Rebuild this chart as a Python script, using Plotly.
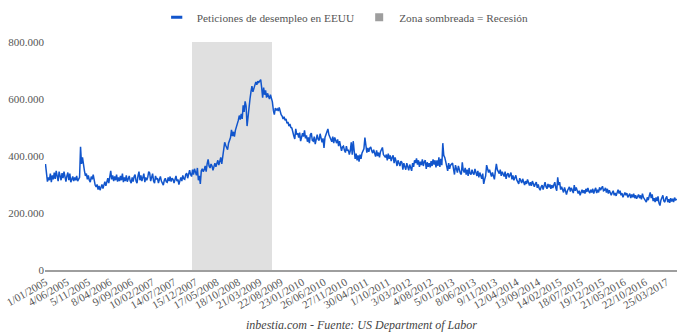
import pandas as pd
import plotly.graph_objects as go

# Weekly initial jobless claims (thousands)
y2005 = [372, 330, 310, 325, 315, 338, 308, 332, 318, 342, 320, 348, 328, 312, 345, 325, 315, 340, 322, 345,
         325, 310, 330, 342, 315, 338, 308, 320, 328, 312, 325, 315, 330, 312, 322, 325, 432, 372, 395, 360,
         348, 330, 338, 318, 332, 315, 308, 328, 318, 335, 312, 298, 292]
y2006 = [300, 282, 295, 280, 290, 300, 286, 305, 310, 295, 315, 322, 305, 335, 348, 318, 332, 312, 328, 315,
         335, 310, 325, 312, 330, 315, 338, 308, 325, 312, 332, 310, 322, 330, 312, 305, 325, 310, 328, 335,
         312, 305, 330, 345, 315, 332, 312, 328, 338, 308, 325, 315]
y2007 = [325, 345, 340, 312, 332, 338, 312, 305, 330, 318, 322, 305, 318, 328, 312, 302, 298, 315, 322, 310,
         308, 325, 312, 328, 310, 322, 318, 305, 320, 330, 312, 318, 300, 315, 325, 312, 332, 320, 318, 335,
         340, 322, 342, 350, 335, 328, 352, 335, 355, 342, 332, 358]
y2008 = [315, 330, 302, 348, 355, 345, 352, 365, 345, 372, 388, 365, 358, 372, 365, 350, 370, 375, 362, 380,
         385, 368, 390, 395, 372, 405, 425, 448, 438, 430, 422, 445, 458, 465, 492, 470, 485, 468, 490, 500,
         515, 525, 542, 528, 548, 530, 578, 555, 592, 575, 505, 540]
y2009 = [590, 600, 625, 645, 625, 640, 655, 660, 650, 662, 658, 665, 668, 640, 605, 640, 615, 630, 605, 620,
         610, 600, 615, 605, 590, 560, 545, 568, 560, 565, 558, 570, 550, 545, 540, 530, 538, 525, 530, 515,
         520, 505, 512, 500, 498, 480, 470, 460, 495, 475, 480, 465]
y2010 = [482, 452, 472, 480, 468, 490, 462, 472, 450, 465, 445, 475, 480, 455, 452, 468, 442, 460, 475, 458,
         455, 478, 462, 448, 462, 428, 465, 478, 482, 495, 475, 468, 462, 450, 468, 445, 465, 452, 445, 458,
         435, 452, 430, 418, 432, 435, 420, 412, 435, 418, 422, 405]
y2011 = [418, 448, 405, 452, 418, 390, 408, 385, 402, 380, 405, 390, 410, 418, 425, 465, 428, 412, 428, 415,
         428, 432, 418, 410, 422, 405, 398, 420, 400, 412, 395, 415, 422, 430, 405, 400, 395, 405, 385, 408,
         390, 402, 382, 395, 402, 375, 395, 382, 365, 385, 372, 365, 382]
y2012 = [378, 352, 375, 362, 352, 375, 358, 350, 370, 355, 348, 375, 362, 385, 375, 392, 370, 385, 362, 380,
         368, 388, 365, 380, 385, 355, 378, 362, 375, 360, 382, 365, 388, 370, 385, 360, 385, 365, 395, 362,
         390, 368, 445, 402, 395, 380, 362, 348, 375, 355, 368, 372]
y2013 = [375, 355, 335, 368, 352, 342, 365, 345, 340, 335, 378, 350, 342, 358, 335, 352, 330, 358, 338, 335,
         352, 340, 335, 355, 338, 330, 348, 325, 342, 328, 320, 338, 302, 318, 330, 368, 358, 342, 352, 335,
         328, 342, 325, 318, 348, 372, 352, 342, 338, 352, 330, 345]
y2014 = [338, 328, 345, 320, 335, 340, 325, 338, 342, 318, 332, 315, 328, 332, 316, 310, 302, 322, 312, 305,
         320, 310, 298, 312, 302, 318, 305, 296, 308, 295, 312, 300, 292, 302, 308, 288, 300, 286, 280, 292,
         298, 282, 295, 308, 292, 285, 302, 290, 300, 285, 298, 288]
y2015 = [298, 308, 288, 278, 325, 298, 308, 282, 292, 280, 272, 290, 278, 265, 278, 285, 292, 275, 288, 280,
         270, 298, 278, 290, 275, 268, 278, 262, 272, 282, 270, 280, 268, 285, 274, 288, 276, 270, 282, 272,
         285, 268, 280, 288, 270, 282, 272, 290, 280, 286, 294, 278]
y2016 = [280, 288, 272, 285, 268, 280, 270, 262, 272, 278, 262, 270, 260, 275, 282, 268, 278, 262, 270, 255,
         265, 272, 262, 270, 255, 265, 268, 252, 265, 255, 268, 252, 262, 250, 260, 265, 252, 262, 248, 268,
         255, 250, 242, 238, 255, 245, 260, 272, 252, 265, 242, 252, 238]
y2017 = [255, 242, 258, 235, 226, 245, 255, 262, 242, 238, 252, 258, 238, 248, 236, 252, 240, 250, 238, 254,
         244, 250]

first_week = "2005-01-01"
recession_start = "2007-11-24"
recession_end = "2009-06-13"
tick_every = 22

claims_k = y2005 + y2006 + y2007 + y2008 + y2009 + y2010 + y2011 + y2012 + y2013 + y2014 + y2015 + y2016 + y2017
claims = [v * 1000 for v in claims_k]

weeks = pd.date_range(first_week, periods=len(claims), freq="7D")
labels = [f"{d.day}/{d.month:02d}/{d.year}" for d in weeks]
rs, re_ = pd.Timestamp(recession_start), pd.Timestamp(recession_end)
shade = [800000 if rs <= d <= re_ else None for d in weeks]
tick_labels = labels[::tick_every]

FONT = "Liberation Serif"
BLUE = "#1155cc"

fig = go.Figure()
fig.add_trace(go.Bar(x=labels, y=shade, marker=dict(color="#e0e0e0", line=dict(width=0)),
                     showlegend=False, hoverinfo="skip"))
fig.add_trace(go.Scatter(x=labels, y=claims, mode="lines", line=dict(color=BLUE, width=1.5),
                         showlegend=False))
# legend entries
fig.add_trace(go.Scatter(x=[None], y=[None], mode="markers", name="Peticiones de desempleo en EEUU",
                         marker=dict(symbol="line-ew", size=8, line=dict(color=BLUE, width=3))))
fig.add_trace(go.Scatter(x=[None], y=[None], mode="markers", name="Zona sombreada = Recesión",
                         marker=dict(symbol="square", size=8, color="#9e9e9e")))

fig.update_layout(
    width=680, height=333,
    margin=dict(l=45, r=3, t=40, b=63),
    paper_bgcolor="white", plot_bgcolor="white",
    font=dict(family=FONT, size=11, color="#555555"),
    bargap=0,
    legend=dict(orientation="h", x=0.475, xanchor="center", y=1.109, yanchor="middle",
                font=dict(family=FONT, size=11.3, color="#555555"), itemwidth=30,
                bgcolor="rgba(0,0,0,0)"),
    showlegend=True,
    xaxis=dict(type="category", categoryorder="array", categoryarray=labels,
               range=[-0.5, len(labels) - 0.5],
               tickmode="array", tickvals=tick_labels, ticktext=tick_labels,
               tickangle=-30, ticks="", showgrid=False, zeroline=False,
               showline=True, linecolor="#9e9e9e", linewidth=1.5,
               tickfont=dict(family=FONT, size=11, color="#555555")),
    yaxis=dict(range=[0, 800000], tickmode="array",
               tickvals=[0, 200000, 400000, 600000, 800000],
               ticktext=["0", "200.000", "400.000", "600.000", "800.000"],
               showgrid=False, zeroline=False, ticks="",
               tickfont=dict(family=FONT, size=11, color="#555555")),
    annotations=[dict(text="<i>inbestia.com - Fuente: US Department of Labor</i>",
                      xref="paper", yref="paper", x=0.5, y=0, yshift=-55,
                      xanchor="center", yanchor="middle", showarrow=False,
                      font=dict(family=FONT, size=12, color="#444444"))],
)

fig.write_html("out.html")
